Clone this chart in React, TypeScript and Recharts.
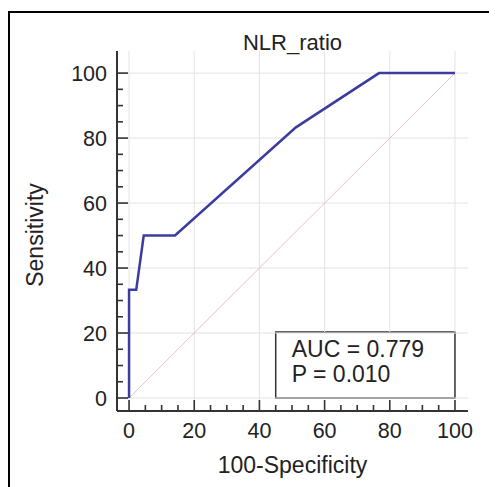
import { LineChart, Line, XAxis, YAxis, ReferenceLine, ReferenceArea, Customized } from "recharts";

// ROC curve points
const falsePositive = [0, 0, 2.2, 4.5, 14.1, 51.2, 76.7, 100];
const sensitivity = [0, 33.3, 33.3, 50, 50, 83.3, 100, 100];

const axisTicks = [0, 5, 10, 15, 20, 25, 30, 35, 40, 45, 50, 55, 60, 65, 70, 75, 80, 85, 90, 95, 100];
const majorTicks = [0, 20, 40, 60, 80, 100];

const chartTitle = "NLR_ratio";
const xLabel = "100-Specificity";
const yLabel = "Sensitivity";
const statLines = ["AUC = 0.779", "P = 0.010"];
// legend box extent in data units
const statBoxX = [45, 100];
const statBoxY = [0, 20.3];

const data = falsePositive.map((fp, i) => ({ fp, se: sensitivity[i] }));

const FONT = "'Liberation Sans', Arial, sans-serif";
const INK = "#222";
const AXIS = "#333";
const W = 489;
const H = 479;
const MARGIN = { top: 43, right: 29, left: 0, bottom: 0 };
const Y_AXIS_W = 109;
const X_AXIS_H = 76;

function XTick(props: any) {
  const { x, y, payload } = props;
  const major = majorTicks.includes(payload.value);
  return (
    <g>
      <line x1={x} x2={x} y1={y} y2={y - (major ? 11 : 6)} stroke={AXIS} strokeWidth={1.6} />
      {major && (
        <text x={x} y={y + 27} textAnchor="middle" fontSize={21.5} fill={INK} fontFamily={FONT}>
          {payload.value}
        </text>
      )}
    </g>
  );
}

function YTick(props: any) {
  const { x, y, payload } = props;
  const major = majorTicks.includes(payload.value);
  return (
    <g>
      <line x1={x} x2={x + (major ? 11 : 6)} y1={y} y2={y} stroke={AXIS} strokeWidth={1.6} />
      {major && (
        <text x={x - 10} y={y + 7.5} textAnchor="end" fontSize={21.5} fill={INK} fontFamily={FONT}>
          {payload.value}
        </text>
      )}
    </g>
  );
}

function StatLabel(props: any) {
  const vb = props.viewBox || {};
  return (
    <g>
      {statLines.map((t, i) => (
        <text key={t} x={vb.x + 16} y={vb.y + 25 + i * 25} fontSize={23} fill={INK} fontFamily={FONT}>
          {t}
        </text>
      ))}
    </g>
  );
}

function Title() {
  const cx = MARGIN.left + Y_AXIS_W + (W - MARGIN.left - Y_AXIS_W - MARGIN.right) / 2;
  return (
    <text x={cx} y={42} textAnchor="middle" fontSize={22} fill={INK} fontFamily={FONT}>
      {chartTitle}
    </text>
  );
}

export default function App() {
  return (
    <div style={{ position: "relative", width: W, height: H }}>
      <style>{"body{overflow:hidden}"}</style>
      <div
        style={{
          position: "absolute",
          left: 0,
          top: 3,
          width: 600,
          height: 600,
          borderLeft: "2px solid #000",
          borderTop: "2px solid #000",
          boxSizing: "border-box",
        }}
      />
      <LineChart width={W} height={H} data={data} margin={MARGIN} style={{ position: "absolute", left: 0, top: 0 }}>
        <XAxis
          dataKey="fp"
          type="number"
          domain={[-3.7, 104]}
          ticks={axisTicks}
          interval={0}
          tickSize={0}
          tickMargin={0}
          tickLine={false}
          tick={<XTick />}
          axisLine={{ stroke: AXIS, strokeWidth: 2 }}
          height={X_AXIS_H}
          allowDataOverflow
          label={(p: any) => {
            const vb = p.viewBox;
            return (
              <text x={vb.x + vb.width / 2} y={vb.y + 62} textAnchor="middle" fontSize={23} fill={INK} fontFamily={FONT}>
                {xLabel}
              </text>
            );
          }}
        />
        <YAxis
          type="number"
          domain={[-4, 106.8]}
          ticks={axisTicks}
          interval={0}
          tickSize={0}
          tickMargin={0}
          tickLine={false}
          tick={<YTick />}
          axisLine={{ stroke: AXIS, strokeWidth: 2 }}
          width={Y_AXIS_W}
          allowDataOverflow
          label={(p: any) => {
            const vb = p.viewBox;
            const cy = vb.y + vb.height / 2 + 4;
            return (
              <text x={35} y={cy} textAnchor="middle" fontSize={23} fill={INK} fontFamily={FONT} transform={`rotate(-90, 35, ${cy})`}>
                {yLabel}
              </text>
            );
          }}
        />
        {majorTicks.map((v) => (
          <ReferenceLine key={"h" + v} y={v} stroke="#e3e3e3" strokeWidth={1} />
        ))}
        {majorTicks.map((v) => (
          <ReferenceLine
            key={"v" + v}
            segment={[
              { x: v, y: v > statBoxX[0] ? statBoxY[1] : -4 },
              { x: v, y: 106.8 },
            ]}
            stroke="#e3e3e3"
            strokeWidth={1}
          />
        ))}
        <ReferenceLine segment={[{ x: 0, y: 0 }, { x: 100, y: 100 }]} stroke="#dcc6cb" strokeWidth={1} />
        <Line dataKey="se" type="linear" stroke="#3c3ca0" strokeWidth={2.5} dot={false} isAnimationActive={false} />
        <ReferenceArea
          x1={statBoxX[0]}
          x2={statBoxX[1]}
          y1={statBoxY[0]}
          y2={statBoxY[1]}
          fill="#fff"
          fillOpacity={1}
          stroke={AXIS}
          strokeWidth={1.5}
          label={<StatLabel />}
        />
        <Customized component={Title} />
      </LineChart>
    </div>
  );
}
